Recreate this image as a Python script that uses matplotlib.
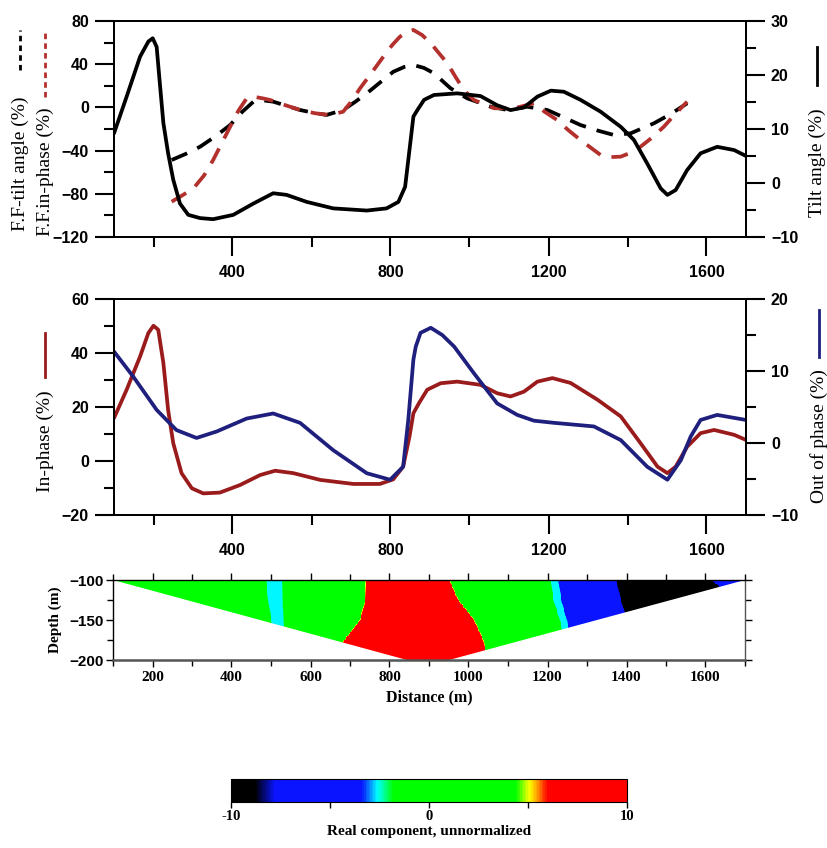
import matplotlib
matplotlib.use("Agg")
import matplotlib.pyplot as plt
import numpy as np
from matplotlib.colors import LinearSegmentedColormap
from matplotlib.lines import Line2D
from matplotlib.patches import Polygon

# ---- top panel: tilt angle (right axis) and filtered curves (left axis)
tilt_x = [100, 132, 166, 187, 198, 208, 216, 225, 237, 250, 267, 288, 318, 351, 402, 453, 503, 537,
          588, 655, 740, 790, 820, 837, 848, 858, 868, 885, 910, 969, 1028, 1070, 1104, 1138, 1172,
          1206, 1239, 1281, 1332, 1383, 1416, 1450, 1484, 1501, 1522, 1551, 1585, 1627, 1670, 1700]
tilt_y = [9.2, 16.0, 23.4, 26.2, 26.8, 25.2, 18.5, 11.1, 5.5, 0.6, -3.8, -5.9, -6.5, -6.7, -5.9, -3.8, -1.9, -2.2,
          -3.5, -4.7, -5.1, -4.7, -3.5, -0.7, 6.1, 12.3, 13.5, 15.4, 16.3, 16.6, 16.1, 14.4, 13.5, 14.0, 16.0,
          17.1, 16.9, 15.4, 13.2, 10.4, 8.0, 3.6, -1.0, -2.2, -1.3, 2.4, 5.5, 6.7, 6.1, 5.0]

fft_x = [246, 282, 318, 356, 394, 425, 453, 478, 503, 537, 571, 605, 638, 680, 710, 740, 775, 807, 835,
         858, 885, 910, 952, 994, 1054, 1096, 1146, 1197, 1240, 1281, 1325, 1366, 1408, 1467, 1510, 1551]
fft_y = [-48.7, -43.0, -36.4, -27.0, -16.3, -4.0, 5.3, 6.5, 5.3, 1.5, -2.4, -5.0, -7.0, -2.4, 5.0, 13.0, 23.5,
         33.0, 37.5, 39.3, 36.5, 31.6, 17.7, 8.4, 0.6, -2.4, 0.6, -2.4, -9.5, -16.3, -21.5, -25.6, -24.0, -14.7,
         -6.0, 3.8]

ffi_x = [246, 275, 301, 328, 351, 373, 394, 415, 436, 453, 475, 495, 530, 571, 610, 647, 680, 700, 723,
         752, 782, 805, 824, 840, 858, 880, 902, 922, 944, 965, 986, 1011, 1062, 1113, 1163, 1190, 1222,
         1250, 1281, 1332, 1358, 1383, 1408, 1433, 1462, 1492, 1520, 1551]
ffi_y = [-87.3, -81.0, -75.0, -63.0, -48.7, -33.0, -17.9, -3.0, 8.4, 9.9, 8.5, 6.9, 2.5, -2.4, -5.5, -7.0,
         -4.0, 5.0, 17.7, 32.0, 47.0, 58.0, 65.5, 69.5, 71.7, 67.0, 59.4, 50.5, 40.8, 28.0, 16.0, 6.9, -0.8,
         -0.8, 3.8, -4.0, -11.7, -21.0, -30.2, -44.1, -46.0, -45.6, -42.0, -36.4, -28.0, -17.9, -6.5, 5.3]

# ---- middle panel: in-phase (left) and out of phase (right)
inph_x = [100, 132, 166, 187, 200, 212, 225, 237, 250, 271, 297, 326, 368, 419, 470, 508, 554, 622, 706,
          773, 807, 832, 848, 858, 872, 893, 927, 969, 1028, 1070, 1104, 1138, 1172, 1210, 1256, 1324,
          1383, 1433, 1476, 1501, 1522, 1551, 1585, 1619, 1670, 1700]
inph_y = [15.9, 26.4, 38.7, 47.4, 50.1, 48.6, 36.3, 18.9, 6.6, -4.5, -10.1, -12.0, -11.7, -8.9, -5.2, -3.6,
          -4.5, -7.0, -8.5, -8.5, -6.8, -2.1, 9.0, 17.7, 21.4, 26.4, 28.8, 29.4, 28.2, 25.1, 23.9, 25.7, 29.4,
          30.7, 28.9, 22.7, 16.5, 6.6, -2.1, -4.5, -2.1, 5.3, 10.3, 11.5, 9.7, 7.8]

outph_x = [100, 149, 208, 258, 309, 360, 436, 503, 571, 655, 740, 799, 832, 845, 858, 864, 876, 902,
           931, 961, 1011, 1070, 1121, 1163, 1214, 1315, 1383, 1450, 1501, 1535, 1560, 1585, 1627, 1700]
outph_y = [12.7, 9.2, 4.6, 1.8, 0.7, 1.6, 3.4, 4.1, 2.8, -1.0, -4.2, -5.1, -3.3, 3.2, 11.6, 13.4, 15.3, 16.0,
           15.0, 13.4, 9.7, 5.5, 3.9, 3.1, 2.8, 2.3, 0.4, -3.3, -5.1, -2.4, 0.9, 3.2, 3.9, 3.2]

# ---- bottom panel: pseudo-section boundaries (x position of colour changes per depth)
sec_depth = [-100, -125, -150, -175, -200]
cyan_left = [485, 490, 498, 505, 510]
cyan_right = [532, 533, 535, 538, 540]
red_left = [740, 738, 725, 685, 660]
red_right = [952, 975, 1015, 1038, 1050]
green_end = [1205, 1212, 1228, 1240, 1250]
blue_start = [1230, 1238, 1252, 1262, 1270]
black_start = [1374, 1385, 1400, 1405, 1410]
black_end = [1615, 1680, 1750, 1750, 1750]
outline_x = [100, 845, 950, 1700]
outline_z = [-100, -200, -200, -100]

val_green, val_cyan, val_red, val_blue, val_black = 1.0, -2.6, 8.5, -6.0, -9.8

plt.rcParams['font.family'] = ['Liberation Sans', 'DejaVu Sans']
SERIF = ['Liberation Serif', 'DejaVu Serif']

fig = plt.figure(figsize=(8.28, 8.48), dpi=100)
W, H = 828.0, 848.0


def fx(px):
    return px / W


def fy(py):
    return 1 - py / H


def box(l, t, r, b):
    return [fx(l), fy(b), fx(r) - fx(l), fy(t) - fy(b)]


def style(ax):
    for s in ax.spines.values():
        s.set_linewidth(1.4)
    ax.tick_params(which='major', direction='out', length=14, width=1.5, labelsize=11.5)
    ax.tick_params(which='minor', direction='out', length=7, width=1.5)
    for t in ax.get_yticklabels() + ax.get_xticklabels():
        t.set_fontweight('bold')


def side_label(px, py_bottom, text, color, ls, py1, py2):
    fig.text(fx(px), fy(py_bottom), text, rotation=90, ha='center', va='bottom',
             family=SERIF, size=14)
    fig.add_artist(Line2D([fx(px), fx(px)], [fy(py1), fy(py2)], color=color, ls=ls, lw=2,
                          transform=fig.transFigure))


line_kw = dict(lw=2.7, solid_joinstyle='round', solid_capstyle='round', dash_joinstyle='round')

# ---------------- top panel
ax1 = fig.add_axes(box(114, 21, 746, 237))
ax1r = ax1.twinx()
ax1.plot(fft_x, fft_y, color='black', ls=(0, (4.5, 3)), **line_kw)
ax1.plot(ffi_x, ffi_y, color='#b3302c', ls=(0, (4.5, 3)), **line_kw)
ax1r.plot(tilt_x, tilt_y, color='black', **line_kw)
ax1.set_xlim(100, 1700)
ax1.set_ylim(-120, 80)
ax1r.set_ylim(-10, 30)
ax1.set_xticks([400, 800, 1200, 1600])
ax1.set_xticks([200, 600, 1000, 1400], minor=True)
ax1.set_yticks([-120, -80, -40, 0, 40, 80])
ax1.set_yticks([-100, -60, -20, 20, 60], minor=True)
ax1r.set_yticks([-10, 0, 10, 20, 30])
ax1r.set_yticks([-5, 5, 15, 25], minor=True)
style(ax1)
style(ax1r)
ax1.tick_params(axis='x', pad=6)
ax1.tick_params(axis='y', pad=4)
ax1r.tick_params(axis='y', pad=4)

side_label(20, 231, 'F.F-tilt angle (%)', 'black', (0, (2.0, 1.5)), 70, 30)
side_label(45, 236, 'F.F.in-phase (%)', '#b3302c', (0, (2.0, 1.5)), 97, 30)
side_label(817, 217, 'Tilt angle (%)', 'black', '-', 85, 47)

# ---------------- middle panel
ax2 = fig.add_axes(box(114, 299, 746, 515))
ax2r = ax2.twinx()
ax2.plot(inph_x, inph_y, color='#9a1b1b', **line_kw)
ax2r.plot(outph_x, outph_y, color='#1f1f7e', **line_kw)
ax2.set_xlim(100, 1700)
ax2.set_ylim(-20, 60)
ax2r.set_ylim(-10, 20)
ax2.set_xticks([400, 800, 1200, 1600])
ax2.set_xticks([200, 600, 1000, 1400], minor=True)
ax2.set_yticks([-20, 0, 20, 40, 60])
ax2.set_yticks([-10, 10, 30, 50], minor=True)
ax2r.set_yticks([-10, 0, 10, 20])
ax2r.set_yticks([-5, 5, 15], minor=True)
style(ax2)
style(ax2r)
ax2.tick_params(axis='x', pad=6)
ax2.tick_params(axis='y', pad=4)
ax2r.tick_params(axis='y', pad=4)

side_label(45, 492, 'In-phase (%)', '#9a1b1b', '-', 377, 333)
side_label(819, 503, 'Out of phase (%)', '#1f1f7e', '-', 357, 310)

# ---------------- bottom panel: pseudo-section
cmap = LinearSegmentedColormap.from_list('sec', [
    (0.0, '#000000'), (0.06, '#000000'), (0.11, '#0a14ff'), (0.33, '#0a14ff'),
    (0.37, '#00ffff'), (0.41, '#00ff00'), (0.72, '#00ff00'), (0.755, '#ffff00'),
    (0.775, '#ff9a00'), (0.80, '#ff0000'), (1.0, '#ff0000')])

ax3 = fig.add_axes(box(113, 580, 745, 660))
gx = np.linspace(100, 1700, 801)
gz = np.linspace(-200, -100, 101)
field = np.zeros((gz.size, gx.size))
dz = sec_depth[::-1]
for i, z in enumerate(gz):
    cl = np.interp(z, dz, cyan_left[::-1])
    cr = np.interp(z, dz, cyan_right[::-1])
    rl = np.interp(z, dz, red_left[::-1])
    rr = np.interp(z, dz, red_right[::-1])
    ge = np.interp(z, dz, green_end[::-1])
    bs = np.interp(z, dz, blue_start[::-1])
    ks = np.interp(z, dz, black_start[::-1])
    ke = np.interp(z, dz, black_end[::-1])
    nx = [0, cl - 6, cl + 4, cr - 4, cr + 6, rl - 6, rl + 6, rr - 6, rr + 6,
          ge - 4, ge + 4, bs - 4, bs + 4, ks - 4, ks + 4, ke - 4, ke + 4, 2000]
    nv = [val_green, val_green, val_cyan, val_cyan, val_green, val_green, val_red, val_red, val_green,
          val_green, val_cyan, val_cyan, val_blue, val_blue, val_black, val_black, val_blue, val_blue]
    field[i] = np.interp(gx, nx, nv)

im = ax3.pcolormesh(gx, gz, field, cmap=cmap, vmin=-10, vmax=10, shading='auto')
clip = Polygon(np.column_stack([outline_x, outline_z]), closed=True, transform=ax3.transData)
im.set_clip_path(clip)
ax3.set_xlim(100, 1700)
ax3.set_ylim(-200, -100)
ax3.set_xticks(np.arange(200, 1700, 200))
ax3.set_xticks(np.arange(100, 1701, 100), minor=True)
ax3.set_yticks([-200, -150, -100])
ax3.set_yticks([-175, -125], minor=True)
for s in ax3.spines.values():
    s.set_linewidth(1.0)
ax3.spines['bottom'].set_linewidth(1.8)
ax3.spines['bottom'].set_color('#555555')
ax3.spines['right'].set_color('#555555')
ax3.tick_params(which='both', direction='out', top=True, right=True, length=5, width=1.0)
ax3.tick_params(which='minor', length=4)
ax3.tick_params(axis='x', labelsize=11, pad=3)
ax3.tick_params(axis='y', labelsize=11, pad=2)
for t in ax3.get_xticklabels():
    t.set_family(SERIF)
    t.set_fontweight('bold')
for t in ax3.get_yticklabels():
    t.set_fontweight('bold')
ax3.set_xlabel('Distance (m)', family=SERIF, fontweight='bold', size=11.5, labelpad=4)
ax3.set_ylabel('Depth (m)', family=SERIF, fontweight='bold', size=11, labelpad=5)

# ---------------- colour bar
cax = fig.add_axes(box(231, 779, 627, 802))
cb = fig.colorbar(im, cax=cax, orientation='horizontal', ticks=[-10, -5, 0, 5, 10])
cb.ax.set_xticklabels(['-10', '', '0', '', '10'])
cb.outline.set_linewidth(0.8)
cb.ax.tick_params(length=4, width=1.0, labelsize=10.5, pad=2)
for t in cb.ax.get_xticklabels():
    t.set_family(SERIF)
    t.set_fontweight('bold')
cb.set_label('Real component, unnormalized', family=SERIF, fontweight='bold', size=11, labelpad=1)

fig.savefig('out.png', dpi=100)
